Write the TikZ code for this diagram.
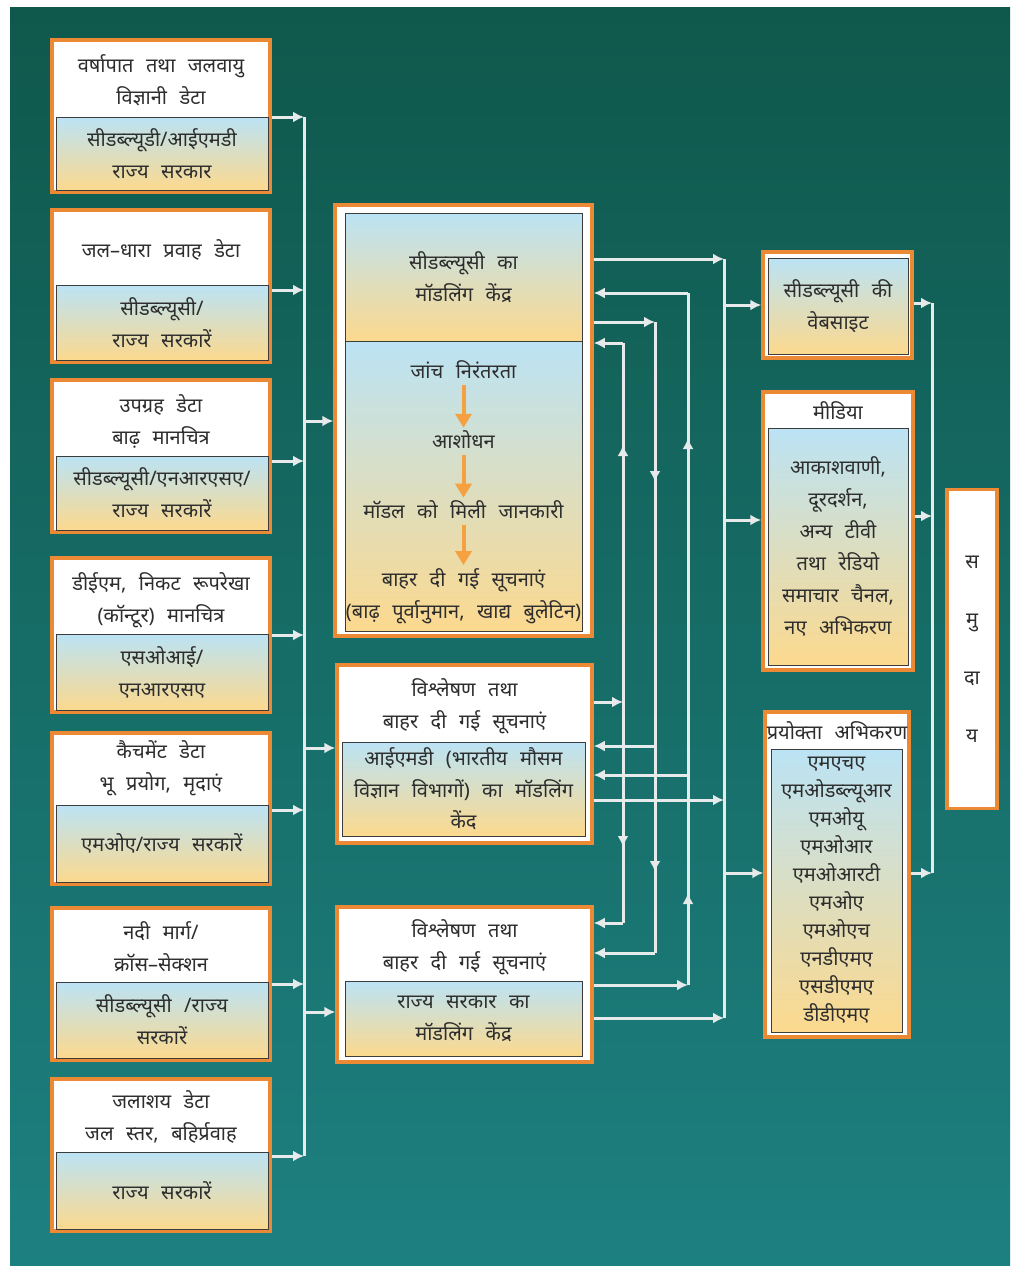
\documentclass[tikz,border=0pt]{standalone}
\usepackage{fontspec}
\newfontfamily\hindi[Script=Devanagari, WordSpace=2.4]{Noto Sans}
\usetikzlibrary{arrows.meta}

\definecolor{cornice}{RGB}{236,137,52}
\definecolor{cielo}{RGB}{187,227,245}
\definecolor{sabbia}{RGB}{252,217,142}
\definecolor{bordo}{RGB}{60,60,60}
\definecolor{testo}{RGB}{45,45,45}
\definecolor{linea}{RGB}{230,234,234}
\definecolor{freccina}{RGB}{245,160,65}
\definecolor{verdescuro}{RGB}{15,88,76}
\definecolor{verdemedio}{RGB}{13,110,103}
\definecolor{verdechiaro}{RGB}{29,128,128}

\tikzset{
  quadro/.style={draw=cornice, line width=3.5pt, fill=white, inner sep=0pt, align=center},
  sfumato/.style={draw=bordo, line width=1pt, top color=cielo, bottom color=sabbia, inner sep=0pt, align=center},
  scritta/.style={inner sep=0pt, align=center},
  bus/.style={draw=linea, line width=3pt},
  freccia/.style={bus, -{Latex[length=11pt,width=11pt]}},
  passo/.style={draw=freccina, line width=4pt, -{Triangle[length=14pt,width=16pt]}}
}

\begin{document}
\begin{tikzpicture}[x=1pt, y=-1pt, font=\hindi\fontsize{20}{32}\selectfont, text=testo]
        \useasboundingbox (0,0) rectangle (1010,1266);
        % Sfondo
        \fill[white] (0,0) rectangle (1010,1266);
        \shade[top color=verdescuro, middle color=verdemedio, bottom color=verdechiaro] (10,7) rectangle (1010,1266);

        % Fonti dei dati
        \node[quadro, minimum width=218pt, minimum height=152pt] (s1) at (161,116) {};
        \node[scritta] (s1t) at (161,80) {वर्षापात तथा जलवायु\\विज्ञानी डेटा};
        \node[sfumato, minimum width=212pt, minimum height=73pt] (s1b) at (162,153.5) {सीडब्ल्यूडी/आईएमडी\\राज्य सरकार};

        \node[quadro, minimum width=218pt, minimum height=152pt] (s2) at (161,286) {};
        \node[scritta] (s2t) at (161,250) {जल–धारा प्रवाह डेटा};
        \node[sfumato, minimum width=212pt, minimum height=75pt] (s2b) at (162,322.5) {सीडब्ल्यूसी/\\राज्य सरकारें};

        \node[quadro, minimum width=218pt, minimum height=152pt] (s3) at (161,456) {};
        \node[scritta] (s3t) at (161,421) {उपग्रह डेटा\\बाढ़ मानचित्र};
        \node[sfumato, minimum width=212pt, minimum height=74pt] (s3b) at (162,493) {सीडब्ल्यूसी/एनआरएसए/\\राज्य सरकारें};

        \node[quadro, minimum width=218pt, minimum height=154pt] (s4) at (161,635) {};
        \node[scritta] (s4t) at (161,600) {डीईएम, निकट रूपरेखा\\(कॉन्टूर) मानचित्र};
        \node[sfumato, minimum width=212pt, minimum height=76pt] (s4b) at (162,672) {एसओआई/\\एनआरएसए};

        \node[quadro, minimum width=218pt, minimum height=151pt] (s5) at (161,808.5) {};
        \node[scritta] (s5t) at (161,768) {कैचमेंट डेटा\\भू प्रयोग, मृदाएं};
        \node[sfumato, minimum width=212pt, minimum height=77pt] (s5b) at (162,843.5) {एमओए/राज्य सरकारें};

        \node[quadro, minimum width=218pt, minimum height=152pt] (s6) at (161,984) {};
        \node[scritta] (s6t) at (161,947) {नदी मार्ग/\\क्रॉस–सेक्शन};
        \node[sfumato, minimum width=212pt, minimum height=76pt] (s6b) at (162,1020) {सीडब्ल्यूसी /राज्य\\सरकारें};

        \node[quadro, minimum width=218pt, minimum height=152pt] (s7) at (161,1155) {};
        \node[scritta] (s7t) at (161,1117) {जलाशय डेटा\\जल स्तर, बहिर्प्रवाह};
        \node[sfumato, minimum width=212pt, minimum height=77pt] (s7b) at (162,1190.5) {राज्य सरकारें};

        % Centri di modellazione
        \node[quadro, minimum width=257pt, minimum height=431pt] (A) at (463.5,420.5) {};
        \node[sfumato, minimum width=237pt, minimum height=128pt] (A1) at (463.5,277) {सीडब्ल्यूसी का\\मॉडलिंग केंद्र};
        \node[sfumato, minimum width=237pt, minimum height=290pt] (A2) at (463.5,486) {};
        \node[scritta] (a1) at (463.5,370) {जांच निरंतरता};
        \node[scritta] (a2) at (463.5,440) {आशोधन};
        \node[scritta] (a3) at (463.5,510) {मॉडल को मिली जानकारी};
        \node[scritta] (a4) at (463.5,596) {बाहर दी गई सूचनाएं\\(बाढ़ पूर्वानुमान, खाद्य बुलेटिन)};
        \draw[passo, shorten <=6pt, shorten >=3pt] (a1) -- (a2);
        \draw[passo, shorten <=6pt, shorten >=3pt] (a2) -- (a3);
        \draw[passo, shorten <=6pt, shorten >=3pt] (a3) -- (a4);

        \node[quadro, minimum width=255pt, minimum height=178pt] (B) at (464.5,754) {};
        \node[scritta] (Bt) at (464.5,706) {विश्लेषण तथा\\बाहर दी गई सूचनाएं};
        \node[sfumato, minimum width=243pt, minimum height=94pt, font=\hindi\fontsize{20}{31.5}\selectfont] (B1) at (463.5,789) {आईएमडी (भारतीय मौसम\\विज्ञान विभागों) का मॉडलिंग\\केंद};

        \node[quadro, minimum width=255pt, minimum height=155pt] (C) at (464.5,984.5) {};
        \node[scritta] (Ct) at (464.5,947.5) {विश्लेषण तथा\\बाहर दी गई सूचनाएं};
        \node[sfumato, minimum width=237pt, minimum height=75pt] (C1) at (463.5,1018.5) {राज्य सरकार का\\मॉडलिंग केंद्र};

        % Canali di diffusione
        \node[quadro, minimum width=149pt, minimum height=106pt] (W) at (837.5,305) {};
        \node[sfumato, minimum width=140pt, minimum height=96pt] (W1) at (838,306) {सीडब्ल्यूसी की\\वेबसाइट};

        \node[quadro, minimum width=150pt, minimum height=278pt] (M) at (838,531) {};
        \node[scritta] (Mt) at (838,411) {मीडिया};
        \node[sfumato, minimum width=140pt, minimum height=237pt] (M1) at (838,546.5) {आकाशवाणी,\\दूरदर्शन,\\अन्य टीवी\\तथा रेडियो\\समाचार चैनल,\\नए अभिकरण};

        \node[quadro, minimum width=144pt, minimum height=325pt] (U) at (837,874.5) {};
        \node[scritta] (Ut) at (837,731) {प्रयोक्ता अभिकरण};
        \node[sfumato, minimum width=131pt, minimum height=283pt, font=\hindi\fontsize{20}{28}\selectfont] (U1) at (836.5,890.5) {एमएचए\\एमओडब्ल्यूआर\\एमओयू\\एमओआर\\एमओआरटी\\एमओए\\एमओएच\\एनडीएमए\\एसडीएमए\\डीडीएमए};

        \node[quadro, minimum width=50pt, minimum height=319pt, font=\hindi\fontsize{20}{58}\selectfont] (S) at (972,649) {स\\मु\\दा\\य};

        % Collettore di sinistra
        \coordinate (b1) at (304,117);
        \coordinate (b2) at (304,290);
        \coordinate (b3) at (304,461);
        \coordinate (b4) at (304,635);
        \coordinate (b5) at (304,810);
        \coordinate (b6) at (304,984);
        \coordinate (b7) at (304,1156);
        \draw[freccia] (s1.east |- b1) -- (b1);
        \draw[freccia] (s2.east |- b2) -- (b2);
        \draw[freccia] (s3.east |- b3) -- (b3);
        \draw[freccia] (s4.east |- b4) -- (b4);
        \draw[freccia] (s5.east |- b5) -- (b5);
        \draw[freccia] (s6.east |- b6) -- (b6);
        \draw[freccia] (s7.east |- b7) -- (b7);
        \draw[bus] (b1) -- (b7);
        \coordinate (bA) at (304,421);
        \coordinate (bB) at (304,748);
        \coordinate (bC) at (304,1012);
        \draw[freccia] (bA) -- (A.west |- bA);
        \draw[freccia] (bB) -- (B.west |- bB);
        \draw[freccia] (bC) -- (C.west |- bC);

        % Scambi tra i centri
        \coordinate (u1) at (623,343);
        \coordinate (u2) at (623,702);
        \coordinate (u3) at (623,923);
        \draw[freccia] (u1) -- (A.east |- u1);
        \draw[freccia] (B.east |- u2) -- (u2);
        \draw[freccia] (u3) -- (C.east |- u3);
        \draw[bus] (u1) -- (u3);
        \draw[freccia] (623,462) -- (623,445);
        \draw[freccia] (623,830) -- (623,847);

        \coordinate (d1) at (655,322);
        \coordinate (d2) at (655,746);
        \coordinate (d3) at (655,953);
        \draw[freccia] (A.east |- d1) -- (d1);
        \draw[freccia] (d2) -- (B.east |- d2);
        \draw[freccia] (d3) -- (C.east |- d3);
        \draw[bus] (d1) -- (d3);
        \draw[freccia] (655,465) -- (655,482);
        \draw[freccia] (655,855) -- (655,872);

        \coordinate (t1) at (688,293);
        \coordinate (t2) at (688,775);
        \coordinate (t3) at (688,985);
        \draw[freccia] (t1) -- (A.east |- t1);
        \draw[freccia] (t2) -- (B.east |- t2);
        \draw[freccia] (C.east |- t3) -- (t3);
        \draw[bus] (t1) -- (t3);
        \draw[freccia] (688,455) -- (688,438);
        \draw[freccia] (688,910) -- (688,893);

        % Uscita verso i canali
        \coordinate (q1) at (724,259);
        \coordinate (q2) at (724,800);
        \coordinate (q3) at (724,1018);
        \draw[freccia] (A.east |- q1) -- (q1);
        \draw[freccia] (B.east |- q2) -- (q2);
        \draw[freccia] (C.east |- q3) -- (q3);
        \draw[bus] (q1) -- (q3);
        \coordinate (qW) at (724,305);
        \coordinate (qM) at (724,520);
        \coordinate (qU) at (724,873);
        \draw[freccia] (qW) -- (W.west |- qW);
        \draw[freccia] (qM) -- (M.west |- qM);
        \draw[freccia] (qU) -- (U.west |- qU);

        % Verso la comunita
        \coordinate (r1) at (932,303);
        \coordinate (r2) at (932,516);
        \coordinate (r3) at (932,873);
        \draw[freccia] (W.east |- r1) -- (r1);
        \draw[freccia] (M.east |- r2) -- (r2);
        \draw[freccia] (U.east |- r3) -- (r3);
        \draw[bus] (r1) -- (r3);
\end{tikzpicture}
\end{document}
